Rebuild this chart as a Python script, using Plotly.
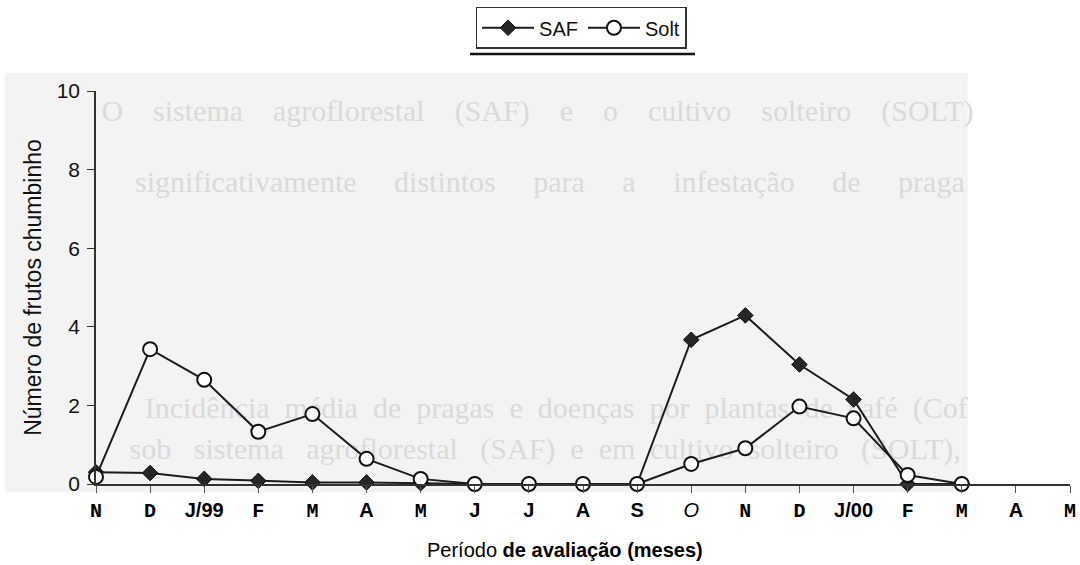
import plotly.graph_objects as go

# ---- data -------------------------------------------------------------
periods = ["Nov/98", "Dez/98", "Jan/99", "Fev/99", "Mar/99", "Abr/99", "Mai/99",
           "Jun/99", "Jul/99", "Ago/99", "Set/99", "Out/99", "Nov/99", "Dez/99",
           "Jan/00", "Fev/00", "Mar/00", "Abr/00", "Mai/00"]
tick_labels = ["N", "D", "J/99", "F", "M", "A", "M", "J", "J", "A", "S", "O",
               "N", "D", "J/00", "F", "M", "A", "M"]
saf = [0.30, 0.28, 0.13, 0.08, 0.04, 0.04, 0.02, 0.0, 0.0, 0.0, 0.0,
       3.67, 4.29, 3.04, 2.15, 0.0, 0.0]
solt = [0.18, 3.43, 2.65, 1.33, 1.78, 0.64, 0.13, 0.0, 0.0, 0.0, 0.0,
        0.51, 0.91, 1.97, 1.67, 0.23, 0.0]
y_ticks = [0, 2, 4, 6, 8, 10]

# faint bleed-through text of the scanned page (x in period index, y in value units)
ghost_text = [
    "O    sistema    agroflorestal    (SAF)    e    o    cultivo    solteiro    (SOLT)",
    "significativamente     distintos     para     a     infestação     de     praga",
    "Incidência  média  de  pragas  e  doenças  por  plantas  de  café  (Cof",
    "sob   sistema   agroflorestal   (SAF)  e  em  cultivo  solteiro   (SOLT),",
]
ghost_x = [0.10, 0.72, 0.90, 0.62]
ghost_y = [9.42, 7.61, 1.88, 0.82]

# ---- tick label styling (the scan mixes typefaces) ---------------------
mono_idx = {0, 1, 3, 4, 6, 12, 13, 15, 16, 18}
italic_idx = {11}
tick_text = []
for i, lab in enumerate(tick_labels):
    if i in mono_idx:
        tick_text.append('<span style="font-family:Liberation Mono"><b>%s</b></span>' % lab)
    elif i in italic_idx:
        tick_text.append('<i>%s</i>' % lab)
    else:
        tick_text.append('<b>%s</b>' % lab)

x_all = list(range(len(periods)))
x_saf = x_all[:len(saf)]
x_solt = x_all[:len(solt)]

fig = go.Figure()

fig.add_trace(go.Scatter(
    x=ghost_x, y=ghost_y, mode="text", text=ghost_text,
    textposition="middle right", cliponaxis=False, showlegend=False,
    hoverinfo="skip",
    textfont=dict(family="Liberation Serif", size=30, color="#dadada"),
))

line_col = "#1c1c1c"
fig.add_trace(go.Scatter(
    x=x_saf, y=saf, name="SAF", mode="lines+markers", cliponaxis=False,
    line=dict(color=line_col, width=2),
    marker=dict(symbol="diamond", size=12, color="#262626",
                line=dict(color="#111", width=1)),
))
fig.add_trace(go.Scatter(
    x=x_solt, y=solt, name="Solt", mode="lines+markers", cliponaxis=False,
    line=dict(color=line_col, width=2),
    marker=dict(symbol="circle", size=14, color="white",
                line=dict(color="#111", width=2)),
))

# scanned grey background region
fig.add_shape(type="rect", xref="paper", yref="paper",
              x0=-0.0934, x1=0.895, y0=-0.0204, y1=1.046,
              fillcolor="#f3f3f3", line=dict(width=0), layer="below")
# rule beneath the legend
fig.add_shape(type="line", xref="paper", yref="paper",
              x0=0.384, x1=0.615, y0=1.094, y1=1.094,
              line=dict(color="#111", width=2.5))

# x-axis title (placed as annotation, centred like the original)
fig.add_annotation(text="Período <b>de avaliação (meses)</b>", xref="paper", yref="paper",
                   x=0.4815, y=-0.168, xanchor="center", yanchor="middle",
                   showarrow=False,
                   font=dict(size=20, family="Liberation Sans", color="#000"))

fig.update_layout(
    width=1080, height=565,
    margin=dict(l=96, r=10, t=91, b=81, autoexpand=False),
    paper_bgcolor="white", plot_bgcolor="rgba(0,0,0,0)",
    font=dict(family="Liberation Sans", color="#111"),
    showlegend=True,
    legend=dict(orientation="h", x=0.498, xanchor="center",
                yref="container", y=0.988, yanchor="top",
                bordercolor="#333", borderwidth=1.5, bgcolor="white",
                font=dict(size=20, family="Liberation Sans", color="#111"),
                itemwidth=52),
)
fig.update_xaxes(
    range=[0, 18], tickmode="array", tickvals=x_all, ticktext=tick_text,
    showline=True, linecolor="#333", linewidth=1.5, showgrid=False, zeroline=False,
    ticks="outside", ticklen=7, tickcolor="#555", tickwidth=1.2,
    automargin=False,
    tickfont=dict(size=20, family="Liberation Sans", color="#000"),
)
fig.update_yaxes(
    range=[0, 10], tickmode="array", tickvals=y_ticks,
    showline=True, linecolor="#333", linewidth=1.5, showgrid=False, zeroline=False,
    ticks="outside", ticklen=7, tickcolor="#333", tickwidth=1.2,
    ticklabelstandoff=3, automargin=False,
    tickfont=dict(size=21, family="Liberation Sans", color="#111"),
    title=dict(text="Número de frutos chumbinho", standoff=9,
               font=dict(size=23, family="Liberation Sans", color="#111")),
)

fig.write_html("out.html", config={"displayModeBar": False},
               post_script="document.body.style.margin='0';")
